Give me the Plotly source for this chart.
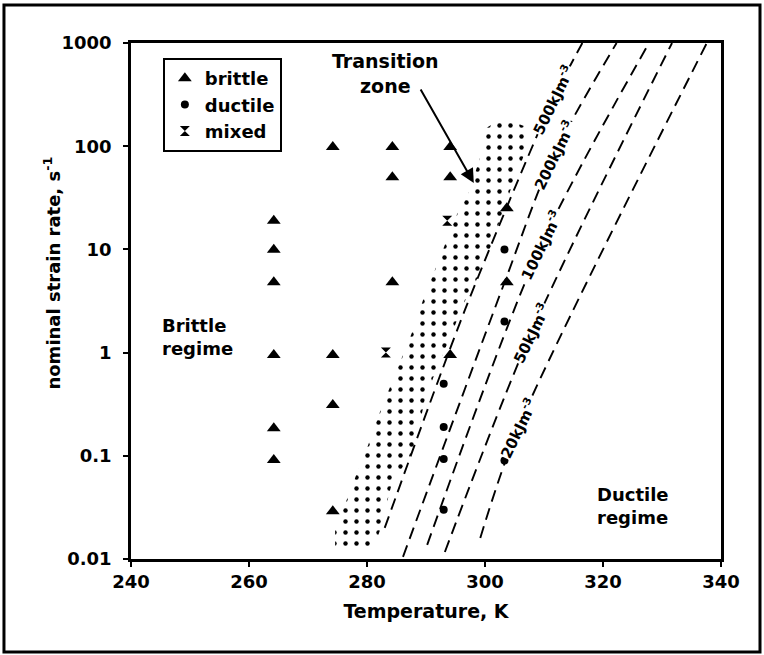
import plotly.graph_objects as go
import math

# ---------------- data ----------------
brittle_T = [264.2, 264.2, 264.2, 264.2, 264.2, 264.2,
             274.2, 274.2, 274.2, 274.2,
             284.3, 284.3, 284.3,
             294.1, 294.1, 294.1,
             303.7, 303.7]
brittle_rate = [19, 9.9, 4.8, 0.95, 0.185, 0.091,
                98, 0.95, 0.31, 0.029,
                98, 50, 4.8,
                98, 50, 0.95,
                25, 4.8]

ductile_T = [293.0, 293.0, 293.0, 293.0, 303.3, 303.3, 303.3]
ductile_rate = [0.5, 0.19, 0.093, 0.03, 10, 2.0, 0.09]

mixed_T = [283.2, 293.6]
mixed_rate = [1.0, 19]

# transition zone outline (dotted region)
zone_T = [300.2, 303.0, 307.5, 307.5, 304.8, 303.0, 301.2, 299.2, 296.4, 294.4,
          291.9, 289.8, 288.0, 284.2, 282.2, 280.9, 274.6, 274.6, 276.4, 278.3,
          280.2, 282.0, 283.9, 285.9, 287.8, 289.5, 291.5, 293.2, 295.2, 297.1, 299.2]
zone_rate = [150, 188, 150, 110, 45, 22.5, 11.5, 5.9, 3.0, 1.55,
             0.72, 0.35, 0.114, 0.054, 0.019, 0.0117, 0.0117, 0.019, 0.036, 0.068,
             0.127, 0.248, 0.465, 0.89, 1.66, 3.24, 6.3, 11.5, 21.5, 33.7, 78.5]

# constant-energy-density lines
line500_T = [283.0, 296.6, 311.5, 316.5]
line500_rate = [0.020, 2.59, 280, 1000]
line200_T = [286.1, 303.4, 311.5, 322.3]
line200_rate = [0.0105, 4.94, 78.6, 1000]
line100_T = [290.2, 309.5, 327.8]
line100_rate = [0.0137, 11.0, 1000]
line50_T = [293.2, 307.8, 331.7]
line50_rate = [0.0117, 1.55, 1000]
line20_T = [299.2, 305.6, 337.6]
line20_rate = [0.016, 0.186, 1000]

energy_labels = ["500kJm<sup>-3</sup>", "200kJm<sup>-3</sup>", "100kJm<sup>-3</sup>",
                 "50kJm<sup>-3</sup>", "20kJm<sup>-3</sup>"]

x_ticks = [240, 260, 280, 300, 320, 340]
y_ticks = [0.01, 0.1, 1, 10, 100, 1000]
y_ticktext = ["0.01", "0.1", "1", "10", "100", "1000"]

# ---------------- figure ----------------
FONT = "DejaVu Sans"
fig = go.Figure()

fig.add_trace(go.Scatter(
    x=zone_T + [zone_T[0]], y=zone_rate + [zone_rate[0]],
    mode="lines", fill="toself", fillcolor="rgba(0,0,0,0)",
    fillpattern=dict(shape=".", size=11, solidity=0.13, fgcolor="black",
                     bgcolor="rgba(0,0,0,0)", fillmode="replace"),
    line=dict(width=0, color="rgba(0,0,0,0)"),
    showlegend=False, hoverinfo="skip"))

for xs, ys in [(line500_T, line500_rate), (line200_T, line200_rate),
               (line100_T, line100_rate), (line50_T, line50_rate),
               (line20_T, line20_rate)]:
    fig.add_trace(go.Scatter(
        x=xs, y=ys, mode="lines",
        line=dict(color="black", width=1.9, dash="12px,7px", shape="spline", smoothing=0.8),
        showlegend=False, hoverinfo="skip"))

fig.add_trace(go.Scatter(x=brittle_T, y=brittle_rate, mode="markers", name="brittle",
                         marker=dict(symbol="triangle-up", size=12, color="black")))
fig.add_trace(go.Scatter(x=ductile_T, y=ductile_rate, mode="markers", name="ductile",
                         marker=dict(symbol="circle", size=8, color="black")))
fig.add_trace(go.Scatter(x=mixed_T, y=mixed_rate, mode="markers", name="mixed",
                         marker=dict(symbol="hourglass", size=10, color="black")))

annotations = []
# line labels (positioned on their lines)
label_pos = [(311.5, 280), (311.7, 82), (309.5, 11.0), (307.8, 1.55), (305.6, 0.186)]
for (lx, ly), txt in zip(label_pos, energy_labels):
    annotations.append(dict(x=lx, y=math.log10(ly), xref="x", yref="y", text=txt,
                            showarrow=False, textangle=-64, bgcolor="white", borderpad=0,
                            font=dict(family=FONT, size=15, color="black", weight="bold")))

# transition zone arrow
annotations.append(dict(x=298.1, y=math.log10(44), xref="x", yref="y", text="",
                        showarrow=True, ax=-54, ay=-95, arrowhead=2, arrowsize=1.4,
                        arrowwidth=2, arrowcolor="black"))
annotations.append(dict(x=0.432, y=0.94, xref="paper", yref="paper", xanchor="center",
                        yanchor="middle",
                        text="Transition<br>zone", showarrow=False, align="center",
                        font=dict(family=FONT, size=19, color="black", weight="bold")))
annotations.append(dict(x=0.049, y=0.43, xref="paper", yref="paper", xanchor="left",
                        yanchor="middle",
                        text="Brittle<br>regime", showarrow=False, align="left",
                        font=dict(family=FONT, size=18, color="black", weight="bold")))
annotations.append(dict(x=0.786, y=0.103, xref="paper", yref="paper", xanchor="left",
                        yanchor="middle",
                        text="Ductile<br>regime", showarrow=False, align="left",
                        font=dict(family=FONT, size=18, color="black", weight="bold")))
# y-axis title (placed as in the reference, above the axis centre)
annotations.append(dict(x=-0.134, y=0.555, xref="paper", yref="paper", xanchor="center",
                        yanchor="middle", textangle=-90, showarrow=False,
                        text="nominal strain rate, s<sup>-1</sup>",
                        font=dict(family=FONT, size=18, color="black", weight="bold")))

axis_font = dict(family=FONT, size=18, color="black", weight="bold")
fig.update_layout(
    width=764, height=655,
    margin=dict(l=131, r=43, t=43, b=96),
    paper_bgcolor="white", plot_bgcolor="white",
    font=dict(family=FONT, color="black"),
    xaxis=dict(range=[240, 340], tickvals=x_ticks, showline=True, linecolor="black",
               linewidth=2.5, mirror=True, ticks="outside", ticklen=5, tickwidth=1.5,
               tickcolor="black", showgrid=False, zeroline=False, tickfont=axis_font,
               title=dict(text="Temperature, K", font=dict(family=FONT, size=19, color="black", weight="bold"),
                          standoff=14)),
    yaxis=dict(type="log", range=[-2, 3], tickvals=y_ticks, ticktext=y_ticktext,
               showline=True, linecolor="black", linewidth=2.5, mirror=True,
               ticks="outside", ticklen=5, tickwidth=1.5, tickcolor="black",
               ticklabelstandoff=8,
               showgrid=False, zeroline=False, tickfont=axis_font),
    legend=dict(x=0.054, y=0.971, xanchor="left", yanchor="top", bgcolor="white",
                bordercolor="black", borderwidth=2, tracegroupgap=0,
                font=dict(family=FONT, size=18, color="black", weight="bold")),
    annotations=annotations,
    shapes=[dict(type="rect", xref="paper", yref="paper", x0=-0.2153, x1=1.0661,
                 y0=-0.1802, y1=1.0736, line=dict(color="black", width=3))],
)

fig.write_html("out.html")
